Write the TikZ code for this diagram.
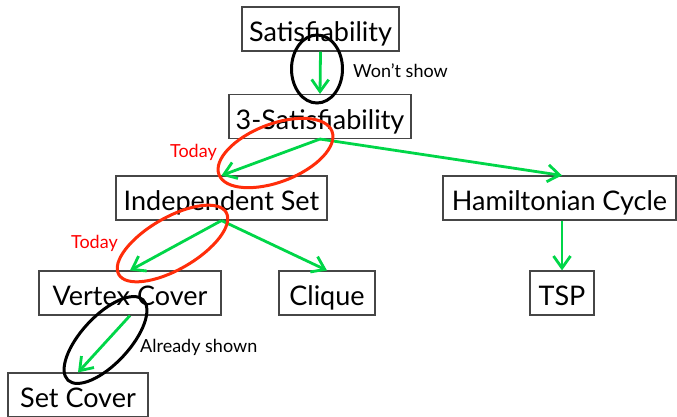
\documentclass[tikz,border=0pt]{standalone}
\usepackage{fontspec}
\setmainfont{Lato}
\usetikzlibrary{arrows.meta,shapes.geometric}
\definecolor{arrowgreen}{RGB}{0,214,72}
\definecolor{ringred}{RGB}{255,45,10}
\definecolor{boxgray}{RGB}{70,70,70}
\begin{document}
\begin{tikzpicture}[x=1pt,y=-1pt,
  box/.style={draw=boxgray, line width=1.1pt, inner sep=0pt, minimum height=44pt,
    text height=30pt, text depth=5pt, font=\fontsize{27}{32}\selectfont},
  reduction/.style={draw=arrowgreen, line width=2.8pt,
    -{Straight Barb[length=12pt,width=17pt]}},
  blackring/.style={ellipse, draw=black, line width=3pt, inner sep=0pt},
  redring/.style={ellipse, draw=ringred, line width=3pt, inner sep=0pt},
  note/.style={inner sep=0pt, font=\fontsize{18}{22}\selectfont},
  rednote/.style={note, text=red}
]
\useasboundingbox (0,0) rectangle (677,417);
% boxes
\node[box, minimum width=157pt] (sat)  at (320.5,29)  {Satisfiability};
\node[box, minimum width=182pt] (sat3) at (320,116.5) {3-Satisfiability};
\node[box, minimum width=211pt] (ind)  at (221.5,198) {Independent Set};
\node[box, minimum width=233pt] (ham)  at (559.5,198) {Hamiltonian Cycle};
\node[box, minimum width=182pt] (vc)   at (130,293)   {Vertex Cover};
\node[box, minimum width=96pt]  (cl)   at (327,293)   {Clique};
\node[box, minimum width=64pt]  (tsp)  at (562,293)   {TSP};
\node[box, minimum width=140pt] (sc)   at (78,395)    {Set Cover};
% reductions
\draw[reduction] (sat.south) -- (sat3.north);
\draw[reduction] (sat3.south) -- (ind.north);
\draw[reduction] (sat3.south) -- (tsp.north |- ham.north);
\draw[reduction] (ind.south) -- (vc.north);
\draw[reduction] (ind.south) -- (cl.north);
\draw[reduction] (tsp.north |- ham.south) -- (tsp.north);
\draw[reduction] (vc.south) -- (sc.north);
% rings
\node[blackring, minimum width=51pt, minimum height=68pt] (r1) at (317,69) {};
\node[redring, minimum width=121pt, minimum height=58pt, rotate=21] (r2) at (275.5,153) {};
\node[redring, minimum width=124pt, minimum height=52pt, rotate=30] (r3) at (172.5,243.5) {};
\node[blackring, minimum width=110pt, minimum height=48pt, rotate=47] (r4) at (105.5,340) {};
% notes
\node[note, anchor=west] (n1) at (353,71) {Won’t show};
\node[rednote, anchor=east] (n2) at (217,152) {Today};
\node[rednote, anchor=east] (n3) at (118,243) {Today};
\node[note, anchor=west] (n4) at (140,347) {Already shown};
\end{tikzpicture}
\end{document}
